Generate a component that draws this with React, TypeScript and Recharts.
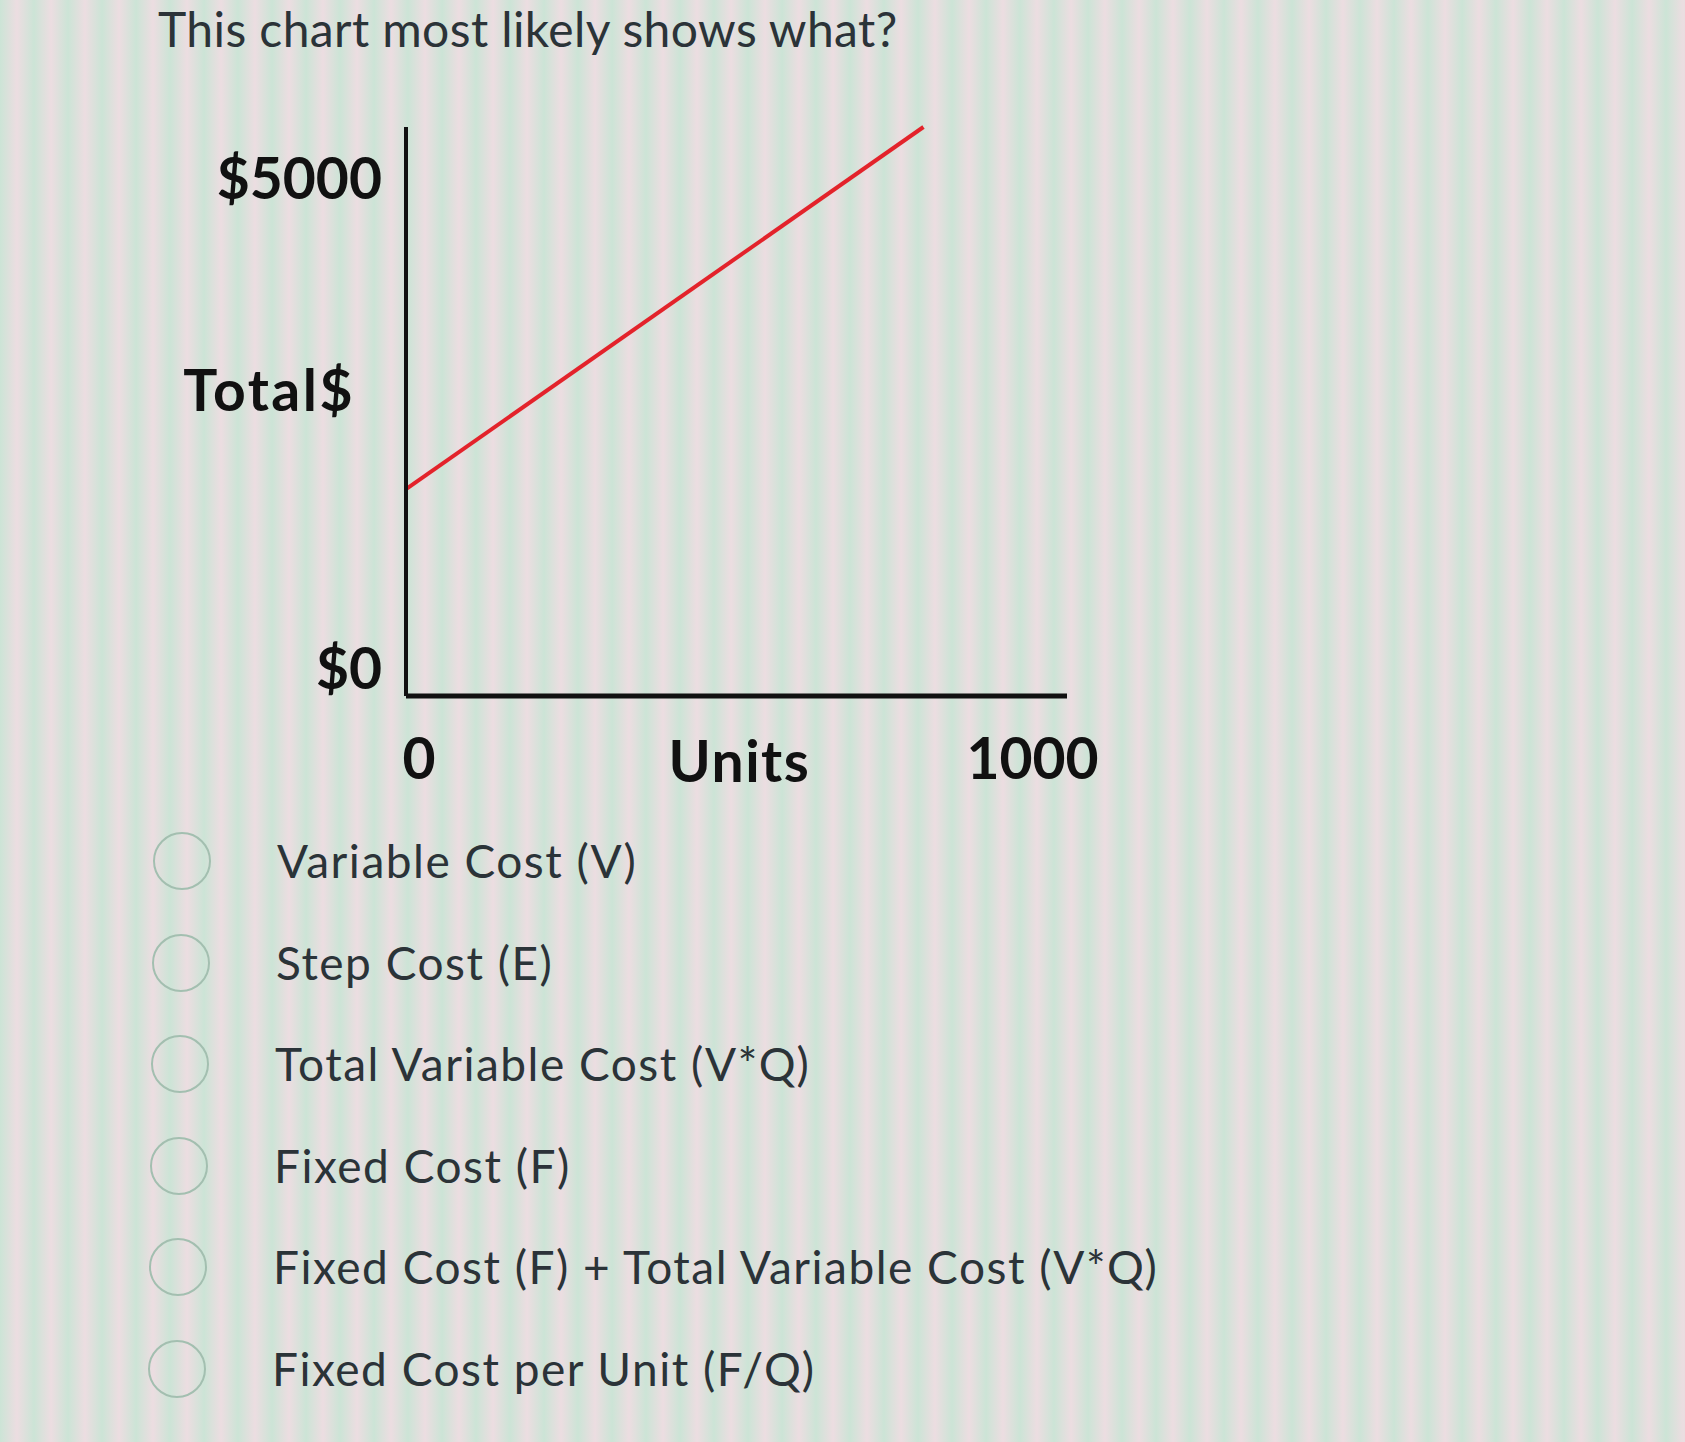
import React from 'react'
import { LineChart, Line, XAxis, YAxis } from 'recharts'

const units = [0, 822]
const totals = [2000, 5500]
const xTicks = [0, 1000]
const yTicks = [0, 5000]
const question = 'This chart most likely shows what?'
const options = [
  'Variable Cost (V)',
  'Step Cost (E)',
  'Total Variable Cost (V*Q)',
  'Fixed Cost (F)',
  'Fixed Cost (F) + Total Variable Cost (V*Q)',
  'Fixed Cost per Unit (F/Q)',
]

const data = units.map((u, i) => ({ units: u, total: totals[i] }))

const axisFont = { fontFamily: 'Lato, "Open Sans", sans-serif', fontWeight: 700, fontSize: 57, fill: '#111' }
const textColor = '#2b3338'

const YTick = (props: any) => {
  const { x, y, payload } = props
  // the $0 label sits above the axis line in the original
  const shift = payload.value === 0 ? -29 : -2
  return (
    <text x={x} y={y + shift} textAnchor="end" dominantBaseline="central" {...axisFont}>
      {`$${payload.value}`}
    </text>
  )
}

const XTick = (props: any) => {
  const { x, y, payload } = props
  const shift = payload.value === 0 ? 13 : -3
  return (
    <text x={x + shift} y={y + 61} textAnchor="middle" dominantBaseline="central" {...axisFont}>
      {payload.value}
    </text>
  )
}

const YLabel = (props: any) => {
  const vb = props.viewBox
  return (
    <text
      x={vb.x + vb.width - 51}
      y={vb.y + vb.height / 2 - 23}
      textAnchor="end"
      dominantBaseline="central"
      letterSpacing={2.5}
      {...axisFont}
    >
      Total$
    </text>
  )
}

const XLabel = (props: any) => {
  const vb = props.viewBox
  return (
    <text
      x={vb.x + vb.width / 2 + 3}
      y={vb.y + 64}
      textAnchor="middle"
      dominantBaseline="central"
      letterSpacing={1.5}
      {...axisFont}
    >
      Units
    </text>
  )
}

export default function App() {
  return (
    <div
      style={{
        position: 'absolute',
        left: 0,
        top: 0,
        width: 1685,
        height: 1442,
        overflow: 'hidden',
        background: 'repeating-linear-gradient(90deg, #cce4d6 0px, #ecdde1 17px, #cce4d6 34px)',
        fontFamily: 'Lato, "Open Sans", sans-serif',
      }}
    >
      <div
        style={{
          position: 'absolute',
          left: 158,
          top: 5,
          fontSize: 48,
          letterSpacing: 0.4,
          lineHeight: 1,
          color: textColor,
          whiteSpace: 'nowrap',
        }}
      >
        {question}
      </div>

      <div style={{ position: 'absolute', left: 0, top: 0 }}>
        <LineChart width={1200} height={820} data={data} margin={{ top: 127, right: 133, bottom: 44, left: 206 }}>
          <XAxis
            dataKey="units"
            type="number"
            domain={[0, 1050]}
            ticks={xTicks}
            interval={0}
            height={80}
            tickSize={0}
            tickMargin={0}
            axisLine={{ stroke: '#111', strokeWidth: 5 }}
            tick={<XTick />}
            label={{ content: <XLabel /> }}
          />
          <YAxis
            type="number"
            domain={[0, 5500]}
            ticks={yTicks}
            interval={0}
            width={200}
            tickSize={0}
            tickMargin={24}
            axisLine={{ stroke: '#111', strokeWidth: 4 }}
            tick={<YTick />}
            label={{ content: <YLabel /> }}
          />
          <Line
            type="linear"
            dataKey="total"
            stroke="#e3232b"
            strokeWidth={4}
            dot={false}
            isAnimationActive={false}
          />
        </LineChart>
      </div>

      {options.map((opt, i) => {
        const top = 838 + i * 101.5
        return (
          <React.Fragment key={opt}>
            <div
              style={{
                position: 'absolute',
                left: 153 - i,
                top: top - 6,
                width: 58,
                height: 58,
                borderRadius: '50%',
                border: '2px solid #a3bfb0',
                boxSizing: 'border-box',
              }}
            />
            <div
              style={{
                position: 'absolute',
                left: 277 - i,
                top,
                fontSize: 46,
                letterSpacing: 1.5,
                lineHeight: 1,
                color: textColor,
                whiteSpace: 'nowrap',
              }}
            >
              {opt}
            </div>
          </React.Fragment>
        )
      })}
    </div>
  )
}
